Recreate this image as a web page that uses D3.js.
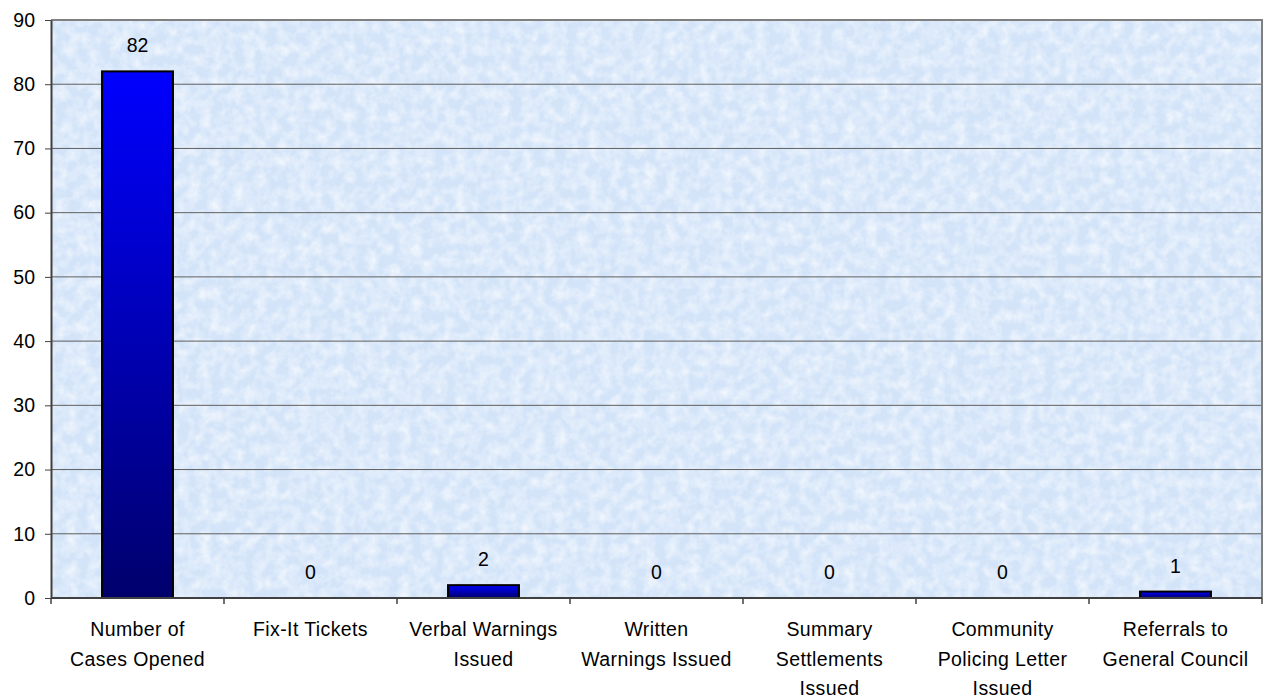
<!DOCTYPE html>
<html>
<head>
<meta charset="utf-8">
<script src="https://cdn.jsdelivr.net/npm/d3@7"></script>
<style>
    body { margin: 0; background: #fff; }
    text { font-family: Arial, "Liberation Sans", sans-serif; fill: #000; }
</style>
</head>
<body>
<script>
// chart data
const categories = ['Number of Cases Opened', 'Fix-It Tickets', 'Verbal Warnings Issued',
    'Written Warnings Issued', 'Summary Settlements Issued', 'Community Policing Letter Issued',
    'Referrals to General Council']
const labelLines = [
    ['Number of', 'Cases Opened'],
    ['Fix-It Tickets'],
    ['Verbal Warnings', 'Issued'],
    ['Written', 'Warnings Issued'],
    ['Summary', 'Settlements', 'Issued'],
    ['Community', 'Policing Letter', 'Issued'],
    ['Referrals to', 'General Council']
]
const values = [82, 0, 2, 0, 0, 0, 1]
const yTicks = [0, 10, 20, 30, 40, 50, 60, 70, 80, 90]

const width = 1264
const height = 700
const margin = { top: 20, right: 2, bottom: 102, left: 51 }

const svg = d3.select('body').append('svg')
    .attr('width', width)
    .attr('height', height)

const defs = svg.append('defs')

let grad = defs.append('linearGradient')
    .attr('id', 'barGrad')
    .attr('x1', 0).attr('y1', 0).attr('x2', 0).attr('y2', 1)
grad.append('stop').attr('offset', '0%').attr('stop-color', '#0000ff')
grad.append('stop').attr('offset', '100%').attr('stop-color', '#00006c')

// paper-ish texture for the plot area
let filt = defs.append('filter')
    .attr('id', 'tex')
    .attr('x', 0).attr('y', 0).attr('width', '100%').attr('height', '100%')
filt.append('feTurbulence')
    .attr('type', 'fractalNoise')
    .attr('baseFrequency', 0.09)
    .attr('numOctaves', 3)
    .attr('seed', 4)
filt.append('feColorMatrix')
    .attr('type', 'matrix')
    .attr('values', '0 0 0 0 1  0 0 0 0 1  0 0 0 0 1  1.6 0 0 0 -0.55')

const x = d3.scaleBand()
    .domain(categories)
    .range([margin.left, width - margin.right])
    .paddingInner(0.59)
    .paddingOuter(0.295)

const y = d3.scaleLinear()
    .domain([0, 90])
    .range([height - margin.bottom, margin.top])

const plotW = width - margin.right - margin.left
const plotH = height - margin.bottom - margin.top

svg.append('rect')
    .attr('x', margin.left).attr('y', margin.top)
    .attr('width', plotW).attr('height', plotH)
    .attr('fill', '#d3e4f9')
svg.append('rect')
    .attr('x', margin.left).attr('y', margin.top)
    .attr('width', plotW).attr('height', plotH)
    .attr('fill', '#fff')
    .attr('filter', 'url(#tex)')
    .attr('opacity', 0.75)

// gridlines
svg.selectAll('.grid')
    .data(yTicks.slice(1, -1))
    .join('line')
    .attr('class', 'grid')
    .attr('x1', margin.left).attr('x2', width - margin.right)
    .attr('y1', d => y(d)).attr('y2', d => y(d))
    .attr('stroke', '#606060')
    .attr('stroke-width', 1)

// border top/right
svg.append('path')
    .attr('d', `M${margin.left},${y(90)}H${width - margin.right}V${y(0)}`)
    .attr('fill', 'none')
    .attr('stroke', '#808080')
    .attr('stroke-width', 2)

// bars
svg.selectAll('.bar')
    .data(values)
    .join('rect')
    .attr('class', 'bar')
    .attr('x', (d, i) => x(categories[i]))
    .attr('width', x.bandwidth())
    .attr('y', d => y(d))
    .attr('height', d => y(0) - y(d))
    .attr('fill', 'url(#barGrad)')
    .attr('stroke', d => d > 0 ? '#000' : 'none')
    .attr('stroke-width', 2)

// value labels
svg.selectAll('.vlabel')
    .data(values)
    .join('text')
    .attr('class', 'vlabel')
    .attr('x', (d, i) => x(categories[i]) + x.bandwidth() / 2)
    .attr('y', d => y(d) - 19)
    .attr('text-anchor', 'middle')
    .style('font-size', '19.5px')
    .text(d => d)

// y axis
const yAxis = d3.axisLeft(y)
    .tickValues(yTicks)
    .tickSize(6)
    .tickPadding(10)
    .tickSizeOuter(0)
let gy = svg.append('g')
    .attr('transform', `translate(${margin.left},0)`)
    .call(yAxis)
gy.select('.domain').attr('stroke', '#404040').attr('stroke-width', 2)
gy.selectAll('.tick line').attr('stroke', '#404040')
gy.selectAll('.tick text')
    .style('font-size', '19.5px')
    .style('font-family', 'Arial, "Liberation Sans", sans-serif')
    .attr('fill', '#000')

// x axis with ticks between categories
const step = x.step()
const boundaries = d3.range(categories.length + 1).map(i => margin.left + i * step)
let gx = svg.append('g')
svg.append('line')
    .attr('x1', margin.left).attr('x2', width - margin.right)
    .attr('y1', y(0)).attr('y2', y(0))
    .attr('stroke', '#404040')
    .attr('stroke-width', 2)
gx.selectAll('line')
    .data(boundaries)
    .join('line')
    .attr('x1', d => d).attr('x2', d => d)
    .attr('y1', y(0)).attr('y2', y(0) + 6)
    .attr('stroke', '#404040')
    .attr('stroke-width', 1.5)

let xl = svg.selectAll('.xlabel')
    .data(labelLines)
    .join('text')
    .attr('class', 'xlabel')
    .attr('text-anchor', 'middle')
    .style('font-size', '19.5px')
    .style('letter-spacing', '0.4px')
xl.each(function(lines, i) {
    let cx = x(categories[i]) + x.bandwidth() / 2
    d3.select(this).selectAll('tspan')
        .data(lines)
        .join('tspan')
        .attr('x', cx)
        .attr('y', (d, j) => y(0) + 38 + j * 29.5)
        .text(d => d)
})
</script>
</body>
</html>
